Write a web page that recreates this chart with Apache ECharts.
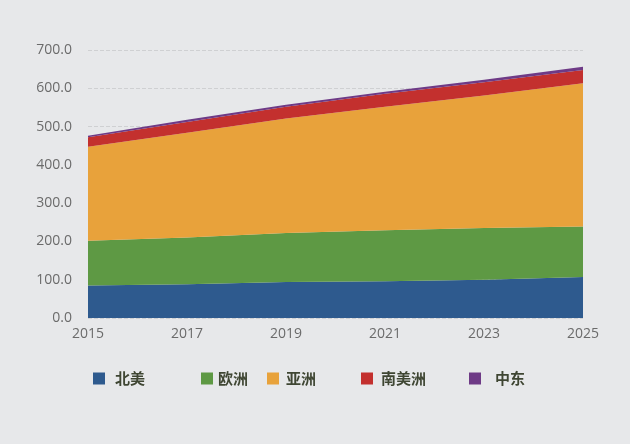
<!DOCTYPE html>
<html>
<head>
<meta charset="utf-8">
<script src="https://cdn.jsdelivr.net/npm/echarts@6/dist/echarts.min.js"></script>
<style>
html,body{margin:0;padding:0;background:#e7e8ea;}
#c{width:630px;height:444px;}
</style>
</head>
<body>
<div id="c"></div>
<script>
var years = ['2015','2017','2019','2021','2023','2025'];
var seriesNames = ['北美','欧洲','亚洲','南美洲','中东'];
var northAmerica = [85, 88, 94, 96, 100, 107];
var europe = [117, 122, 128, 133, 135, 132];
var asia = [245, 274, 299, 323, 346, 374];
var southAmerica = [25, 28, 31, 34, 35, 35];
var middleEast = [4, 6, 5, 5, 6, 8];
var yTicks = [0, 100, 200, 300, 400, 500, 600, 700];

var colors = ['#2e5a8e', '#5e9944', '#e8a23b', '#c3302e', '#6e3a86'];
var values = [northAmerica, europe, asia, southAmerica, middleEast];

var legendLeft = [88, 196, 262, 356, 464];
var legendPad = [5, 0, 2, 3, 9];

var chart = echarts.init(document.getElementById('c'));
var legends = seriesNames.map(function (n, i) {
  return {
    data: [n],
    left: legendLeft[i],
    top: 366,
    icon: 'rect',
    itemWidth: 12,
    itemHeight: 12,
    selectedMode: false,
    textStyle: {
      fontFamily: 'Noto Sans CJK SC',
      fontWeight: 'bold',
      fontSize: 15,
      color: '#3f4633',
      padding: [0, 0, 0, legendPad[i]]
    }
  };
});

chart.setOption({
  backgroundColor: '#e7e8ea',
  animation: false,
  color: colors,
  legend: legends,
  grid: { left: 88, right: 47, top: 50, bottom: 126, containLabel: false },
  xAxis: {
    type: 'category',
    data: years,
    boundaryGap: false,
    axisLine: { show: false },
    axisTick: { show: false },
    axisLabel: { color: '#6b6b6b', fontSize: 14, fontFamily: 'Open Sans', margin: 9 }
  },
  yAxis: {
    type: 'value',
    min: yTicks[0],
    max: yTicks[yTicks.length - 1],
    interval: 100,
    axisLine: { show: false },
    axisTick: { show: false },
    axisLabel: {
      color: '#6b6b6b', fontSize: 14, fontFamily: 'Open Sans', margin: 16,
      formatter: function (v) { return v.toFixed(1); }
    },
    splitLine: { lineStyle: { color: '#cfd0d2', type: 'dashed', width: 1 } }
  },
  series: seriesNames.map(function (n, i) {
    return {
      name: n,
      type: 'line',
      stack: 'total',
      data: values[i],
      showSymbol: false,
      symbol: 'none',
      lineStyle: { width: 0 },
      areaStyle: { color: colors[i], opacity: 1 },
      itemStyle: { color: colors[i] }
    };
  })
});
</script>
</body>
</html>
